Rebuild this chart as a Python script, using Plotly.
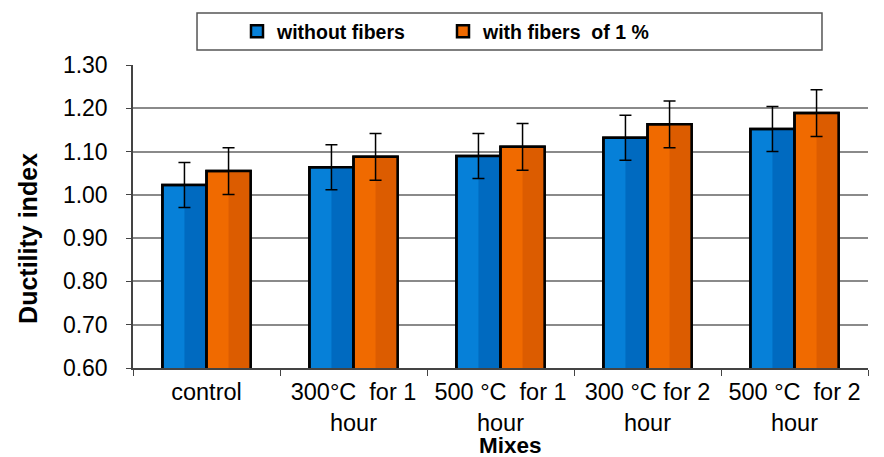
import plotly.graph_objects as go

categories = ["control", "300°C  for 1<br>hour", "500 °C  for 1<br>hour",
              "300 °C for 2<br>hour", "500 °C  for 2<br>hour"]
without_fibers = [1.023, 1.064, 1.090, 1.132, 1.152]
with_fibers = [1.055, 1.088, 1.111, 1.163, 1.189]
err_without = [0.052, 0.052, 0.052, 0.052, 0.052]
err_with = [0.054, 0.054, 0.054, 0.054, 0.054]
series_names = ["without fibers", "with fibers  of 1 %"]
y_ticks = [0.6, 0.7, 0.8, 0.9, 1.0, 1.1, 1.2, 1.3]

FONT = "Liberation Sans, Arial, sans-serif"
BAR_W = 0.3

fig = go.Figure()


def add_series(values, errs, name, light, dark, offset):
    # base bar (legend entry)
    fig.add_trace(go.Bar(
        x=categories, y=values, name=name, width=BAR_W, offset=offset,
        marker=dict(color=light, line=dict(color="black", width=2.5)),
        showlegend=True, hoverinfo="skip",
    ))
    # darker right half for a bevel look
    fig.add_trace(go.Bar(
        x=categories, y=values, width=BAR_W / 2, offset=offset + BAR_W / 2,
        marker=dict(color=dark, line=dict(width=0)),
        showlegend=False, hoverinfo="skip",
    ))
    # outline + error bars on top
    fig.add_trace(go.Bar(
        x=categories, y=values, name=name, width=BAR_W, offset=offset,
        marker=dict(color="rgba(0,0,0,0)", line=dict(color="black", width=2.5)),
        error_y=dict(type="data", array=errs, color="black", thickness=1.5, width=6),
        showlegend=False,
    ))


add_series(without_fibers, err_without, series_names[0], "#0680d8", "#006ac0", -BAR_W)
add_series(with_fibers, err_with, series_names[1], "#f06a00", "#dc5c00", 0.0)

# legend frame
fig.add_shape(type="rect", xref="paper", yref="paper",
              x0=0.0871, x1=0.9374, y0=1.0495, y1=1.1716,
              line=dict(color="#555", width=1.5), fillcolor="white", layer="below")

fig.add_annotation(text="<b>Ductility index</b>", xref="paper", yref="paper",
                   x=-0.143, y=0.429, xanchor="center", yanchor="middle",
                   textangle=-90, showarrow=False,
                   font=dict(size=25, family=FONT, color="black"))
fig.add_annotation(text="<b>Mixes</b>", xref="paper", yref="paper",
                   x=0.513, y=-0.255, xanchor="center", yanchor="middle",
                   showarrow=False,
                   font=dict(size=22.5, family=FONT, color="black"))

# the page body adds an 8px offset, so the figure is 8px smaller than the window
fig.update_layout(
    width=876, height=449,
    margin=dict(l=125, r=16, t=57, b=89, autoexpand=False),
    paper_bgcolor="white", plot_bgcolor="white",
    barmode="overlay",
    font=dict(family=FONT, size=23, color="black"),
    legend=dict(
        orientation="h", x=0.1415, xref="paper", xanchor="left",
        y=0.991, yref="container", yanchor="top",
        borderwidth=0, bgcolor="rgba(0,0,0,0)",
        font=dict(size=19.5, family=FONT, weight="bold"),
        itemwidth=30, entrywidth=161,
    ),
    xaxis=dict(
        showline=True, linecolor="#444", linewidth=1.5,
        ticks="outside", tickson="boundaries", ticklen=6, tickcolor="#444",
        tickfont=dict(size=23.5), ticklabelstandoff=2, automargin=False,
    ),
    yaxis=dict(
        range=[0.6, 1.3], tickvals=y_ticks, tickformat=".2f",
        showline=True, linecolor="#444", linewidth=1.5,
        ticks="outside", ticklen=5, tickcolor="#444",
        showgrid=True, gridcolor="#8a8a8a", gridwidth=1.5,
        tickfont=dict(size=23), ticklabelstandoff=14, automargin=False,
        zeroline=False,
    ),
)

fig.write_html("out.html")
